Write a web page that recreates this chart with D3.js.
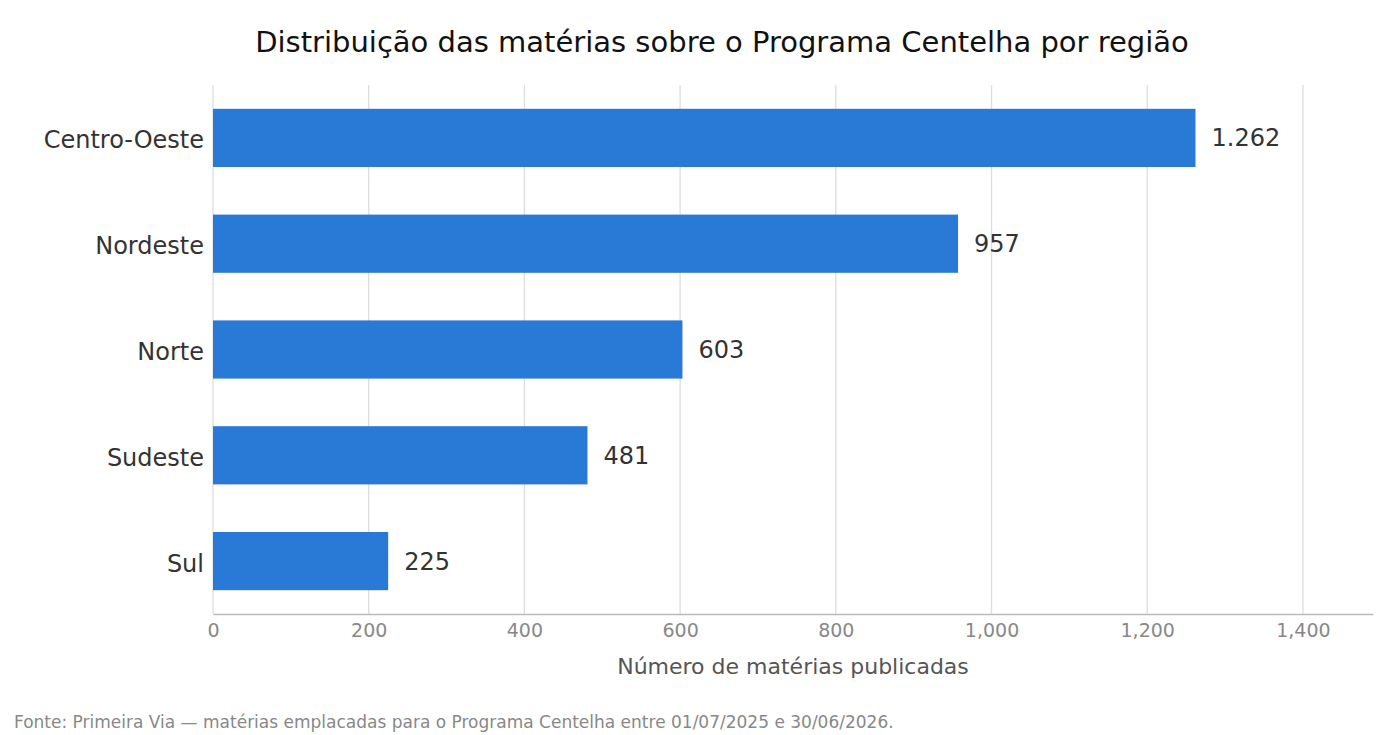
<!DOCTYPE html>
<html>
<head>
<meta charset="utf-8">
<script src="https://cdn.jsdelivr.net/npm/d3@7"></script>
<style>
  body { margin: 0; background: #fff; }
  text { font-family: "DejaVu Sans", sans-serif; }
</style>
</head>
<body>
<svg id="chart" width="1400" height="735"></svg>
<script>
// data
var regions = ["Centro-Oeste", "Nordeste", "Norte", "Sudeste", "Sul"]
var counts = [1262, 957, 603, 481, 225]
var xTicks = [0, 200, 400, 600, 800, 1000, 1200, 1400]

var width = 1400
var height = 735
var margin = { top: 85, bottom: 121, left: 213, right: 27 }
var bodyWidth = width - margin.left - margin.right
var bodyHeight = height - margin.top - margin.bottom

var svg = d3.select("#chart")

var xScale = d3.scaleLinear()
  .domain([0, 1490])
  .range([0, bodyWidth])

var yScale = d3.scaleBand()
  .domain(regions)
  .range([0, bodyHeight])
  .paddingInner(0.45)
  .paddingOuter(0.225)

var body = svg.append("g")
  .attr("transform", `translate(${margin.left},${margin.top})`)

// vertical grid
body.selectAll(".grid").data(xTicks).enter().append("line")
  .attr("x1", d => xScale(d)).attr("x2", d => xScale(d))
  .attr("y1", 0).attr("y2", bodyHeight)
  .attr("stroke", "#dddddd").attr("stroke-width", 1.3)

var fmt = d => d3.format(",")(d).replace(/,/g, ".")

body.selectAll(".bar").data(counts).enter().append("rect")
  .attr("x", 0)
  .attr("y", (d, i) => yScale(regions[i]))
  .attr("width", d => xScale(d))
  .attr("height", yScale.bandwidth())
  .attr("fill", "#2979d6")

body.selectAll(".val").data(counts).enter().append("text")
  .attr("x", d => xScale(d) + 16)
  .attr("y", (d, i) => yScale(regions[i]) + yScale.bandwidth() / 2)
  .attr("dy", "0.35em")
  .attr("font-size", 24)
  .attr("fill", "#333")
  .text(fmt)

// y labels
body.selectAll(".ylab").data(regions).enter().append("text")
  .attr("x", -9)
  .attr("y", d => yScale(d) + yScale.bandwidth() / 2 + 2)
  .attr("dy", "0.35em")
  .attr("text-anchor", "end")
  .attr("font-size", 24)
  .attr("fill", "#333")
  .text(d => d)

// x axis
var xAxis = d3.axisBottom(xScale).tickValues(xTicks).tickSize(0).tickPadding(10)
var gx = body.append("g")
  .attr("transform", `translate(0,${bodyHeight})`)
  .call(xAxis)
gx.select(".domain").attr("stroke", "#bbbbbb").attr("stroke-width", 1.5)
gx.selectAll("text").attr("font-size", 19).attr("fill", "#888").attr("font-family", "DejaVu Sans")

body.append("text")
  .attr("x", bodyWidth / 2).attr("y", bodyHeight + 60)
  .attr("text-anchor", "middle")
  .attr("font-size", 22).attr("fill", "#555")
  .text("Número de matérias publicadas")

svg.append("text")
  .attr("x", 722).attr("y", 52)
  .attr("text-anchor", "middle")
  .attr("font-size", 29).attr("fill", "#111")
  .text("Distribuição das matérias sobre o Programa Centelha por região")

svg.append("text")
  .attr("x", 14).attr("y", 728)
  .attr("font-size", 17).attr("fill", "#888")
  .text("Fonte: Primeira Via — matérias emplacadas para o Programa Centelha entre 01/07/2025 e 30/06/2026.")
</script>
</body>
</html>
